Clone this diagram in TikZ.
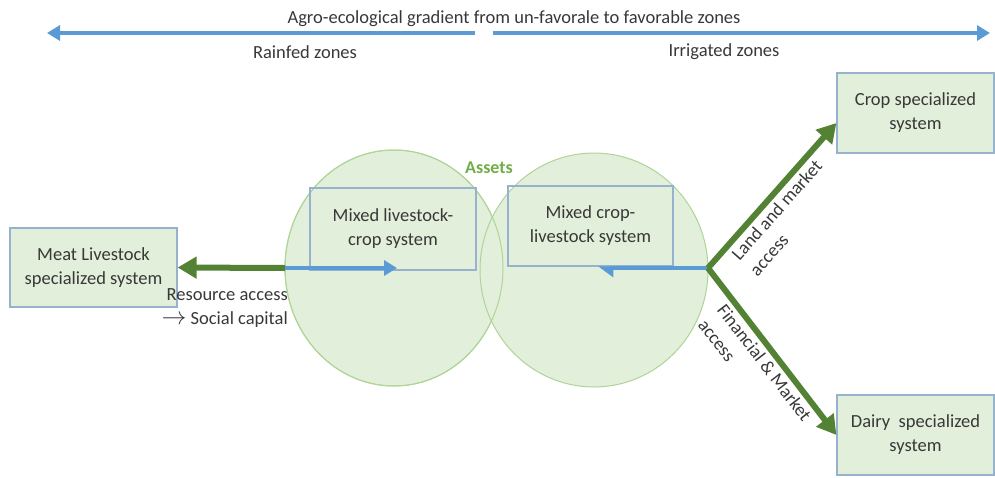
\documentclass[tikz,border=0pt]{standalone}
\usepackage{fontspec}
\setmainfont{Carlito}
\usetikzlibrary{
arrows.meta,
positioning,
shapes.geometric
}
\definecolor{boxfill}{RGB}{226,239,218}
\definecolor{boxline}{RGB}{150,178,206}
\definecolor{blobline}{RGB}{175,212,150}
\definecolor{leafgreen}{RGB}{84,130,53}
\definecolor{assetgreen}{RGB}{112,173,71}
\definecolor{gradblue}{RGB}{91,155,213}
\definecolor{txtgray}{RGB}{56,56,56}
\tikzset{
  sysbox/.style={draw=boxline, fill=boxfill, line width=1.2pt, align=center, inner sep=0pt,
    minimum width=157pt, minimum height=80pt},
  mixbox/.style={draw=boxline, line width=1.2pt, align=center, inner sep=0pt},
  blob/.style={ellipse, fill=boxfill, draw=blobline, line width=1pt, inner sep=0pt, outer sep=0pt},
  bluearrow/.style={draw=gradblue, line width=4pt, -{Triangle[length=13pt,width=15pt]}},
  greenarrow/.style={draw=leafgreen, line width=6pt, -{Triangle[length=19pt,width=21pt]}},
  sidelabel/.style={midway, sloped, below, align=left, font=\fontsize{18.5}{24}\selectfont}
}

\begin{document}
\begin{tikzpicture}[x=1pt, y=-1pt, font=\fontsize{18.5}{24}\selectfont, text=txtgray]
    \useasboundingbox (0,0) rectangle (995,477);
    \coordinate (gwest) at (47,33);
    \coordinate (gmidl) at (475,33);
    \coordinate (gmidr) at (493,33);
    \coordinate (geast) at (990,33);
    \draw[bluearrow] (gmidl) -- (gwest);
    \draw[bluearrow] (gmidr) -- (geast);
    \node (gradient) at (514,19) {Agro-ecological gradient from un-favorale to favorable zones};
    \node (rainfed) at (305,52) {Rainfed zones};
    \node (irrigated) at (724,52) {Irrigated zones};
    \node [blob, minimum width=218pt, minimum height=236pt] (lblob) at (394,268) {};
    \node [blob, minimum width=228pt, minimum height=234pt] (rblob) at (594,270) {};
    \node [blob, fill=none, minimum width=218pt, minimum height=236pt] (lrim) at (lblob) {};
    \node [text=assetgreen, font=\bfseries\fontsize{18}{22}\selectfont] (assets) at (489,168) {Assets};
    \node [mixbox, minimum width=166pt, minimum height=82pt] (mlc) at (393,229) {Mixed livestock-\\crop system};
    \node [mixbox, minimum width=165pt, minimum height=80pt] (mcl) at (590.5,226) {Mixed crop-\\livestock system};
    \node [sysbox, minimum width=167pt, minimum height=79pt] (meat) at (93.5,267.5) {Meat Livestock\\specialized system};
    \node [sysbox] (crop) at (915.5,113) {Crop specialized\\system};
    \node [sysbox] (dairy) at (915.5,435) {Dairy~ specialized\\system};
    \coordinate (hub) at (708,268);
    \coordinate (lhead) at (397,268);
    \coordinate (rhead) at (598,268);
    \draw[greenarrow] (lblob.west) -- (meat.east);
    \draw[bluearrow] (lblob.west) -- (lhead);
    \draw[bluearrow, -{Triangle[harpoon,length=13pt,width=18pt]}] (hub) -- (rhead);
    \draw[greenarrow] (hub) -- node [sidelabel, pos=0.46] (landlbl) {Land and market\\access} ([yshift=-10pt]crop.west);
    \draw[greenarrow] (hub) -- node [sidelabel, pos=0.52] (finlbl) {Financial \& Market\\access} (dairy.west);
    \node [anchor=east, align=right, inner sep=0pt] (resacc) at (288,308.5) {Resource access\\{\fontsize{25}{24}\selectfont$\rightarrow$} Social capital};
\end{tikzpicture}
\end{document}
